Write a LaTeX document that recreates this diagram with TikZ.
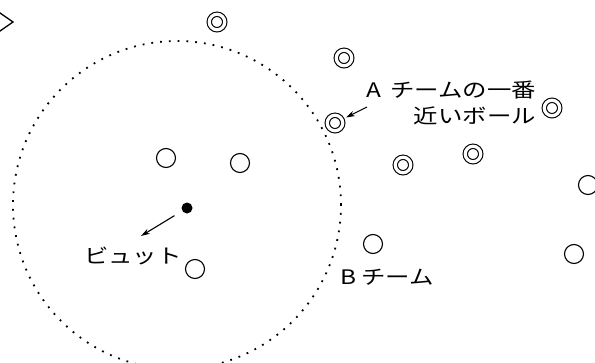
\documentclass[tikz,border=0pt]{standalone}
\usepackage{fontspec}
\usepackage{graphicx}
\newfontfamily\cjk{Noto Sans CJK JP}
\usetikzlibrary{arrows.meta}
\newcommand{\widetxt}[1]{\scalebox{1.22}[1]{#1}}
\begin{document}
\begin{tikzpicture}[x=1pt,y=-1pt,
  ball/.style={circle,draw,line width=1.1pt,minimum size=19pt,inner sep=0pt},
  aball/.style={circle,draw,double,double distance=3.2pt,line width=1.1pt,minimum size=15.5pt,inner sep=0pt},
  jack/.style={circle,fill,minimum size=11pt,inner sep=0pt},
  lbl/.style={font=\cjk\fontsize{20}{26}\selectfont,inner sep=0pt},
  arr/.style={line width=1.1pt,-{Stealth[length=9pt,width=5.5pt]}},
  rangecircle/.style={line width=1.8pt,dash pattern=on 1.8pt off 7pt}]
\useasboundingbox (0,0) rectangle (595,362);
\clip (0,0) rectangle (595,362);
\draw[rangecircle] (177,205) circle[radius=164pt];
\draw[line width=1.3pt] (-3,10.9) -- (13,22) -- (-3,33.1);
\node[aball] (a1) at (217,22) {};
\node[aball] (a2) at (344,58) {};
\node[aball] (a3) at (335,123) {};
\node[aball] (a4) at (403,165) {};
\node[aball] (a5) at (473,154) {};
\node[aball] (a6) at (552,108) {};
\node[ball] (b1) at (166,158) {};
\node[ball] (b2) at (240,163) {};
\node[ball] (b3) at (195,269) {};
\node[ball] (b4) at (373,244) {};
\node[ball] (b5) at (574,254) {};
\node[ball] (b6) at (588,185) {};
\node[jack] (jack) at (187,208) {};
\node[lbl,anchor=east] (alabel) at (536,105) {\widetxt{\begin{tabular}{@{}r@{}}A\hspace{7pt}チームの一番\\近いボール\end{tabular}}};
\node[lbl] (pin) at (133,256) {\widetxt{ビュット}};
\node[lbl] (bteam) at (387,277) {\widetxt{B\hspace{4pt}チーム}};
\coordinate (astart) at (367,107);
\coordinate (jackend) at (141,236);
\draw[arr,shorten >=4pt] (astart) -- (a3);
\draw[arr,shorten <=9pt] (jack) -- (jackend);
\end{tikzpicture}
\end{document}
